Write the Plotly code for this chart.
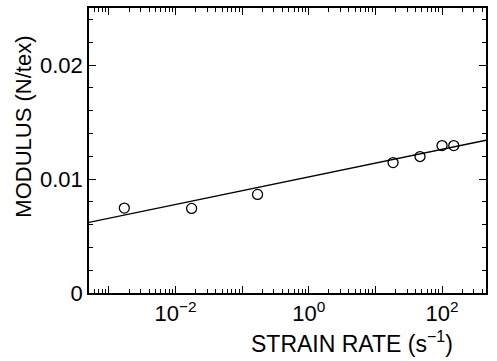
import plotly.graph_objects as go

# data
strain_rate = [0.0017, 0.0174, 0.17, 18.4, 46.7, 100, 150]
modulus = [0.00745, 0.00742, 0.00865, 0.01144, 0.01197, 0.01293, 0.01293]

fit_x = [5.0e-4, 457]
fit_y = [0.0062, 0.0134]

x_tickvals = [1e-3, 1e-2, 1e-1, 1, 10, 100]
x_ticktext = ["", "10<sup>−2</sup>", "", "10<sup>0</sup>", "", "10<sup>2</sup>"]
y_tickvals = [0, 0.01, 0.02]
y_ticktext = ["0", "0.01", "0.02"]

x_minor = [m * 10 ** e for e in range(-4, 3) for m in range(2, 10)]

FONT = "Liberation Sans, Arial, Helvetica, sans-serif"
FS = 22

fig = go.Figure()
fig.add_trace(go.Scatter(x=fit_x, y=fit_y, mode="lines",
                         line=dict(color="black", width=1.3), showlegend=False))
fig.add_trace(go.Scatter(x=strain_rate, y=modulus, mode="markers",
                         marker=dict(symbol="circle-open", size=10, color="black",
                                     line=dict(width=1.3)), showlegend=False))

fig.update_layout(
    width=497, height=361,
    margin=dict(l=89, r=11, t=6, b=68),
    paper_bgcolor="white", plot_bgcolor="white",
    font=dict(family=FONT, size=FS, color="black"),
    xaxis=dict(type="log", range=[-3.3, 2.66], tickmode="array",
               tickvals=x_tickvals, ticktext=x_ticktext,
               ticks="inside", ticklen=7, tickwidth=1.2, tickcolor="black",
               showline=True, linecolor="black", linewidth=1.5, mirror="allticks",
               showgrid=False, zeroline=False,
               minor=dict(tickvals=x_minor, ticks="inside", ticklen=4,
                          tickwidth=1, tickcolor="black", showgrid=False),
               tickfont=dict(size=FS)),
    yaxis=dict(range=[0, 0.025], tickmode="array",
               tickvals=y_tickvals, ticktext=y_ticktext,
               ticks="inside", ticklen=7, tickwidth=1.2, tickcolor="black",
               showline=True, linecolor="black", linewidth=1.5, mirror="allticks",
               showgrid=False, zeroline=False,
               minor=dict(dtick=0.002, ticks="inside", ticklen=4,
                          tickwidth=1, tickcolor="black", showgrid=False),
               tickfont=dict(size=FS)),
    annotations=[
        dict(text="STRAIN RATE (s<sup>−1</sup>)", xref="paper", yref="paper",
             x=(352 - 89) / (486 - 89), y=-0.114, xanchor="center", yanchor="top",
             showarrow=False, font=dict(size=23)),
        dict(text="MODULUS (N/tex)", xref="paper", yref="paper",
             x=-0.165, y=(293 - 125) / (293 - 6), xanchor="center", yanchor="middle",
             textangle=-90, showarrow=False, font=dict(size=FS)),
    ],
)

fig.write_html("out.html", config={"displayModeBar": False},
               post_script="document.body.style.margin='0';document.body.style.padding='0';")
